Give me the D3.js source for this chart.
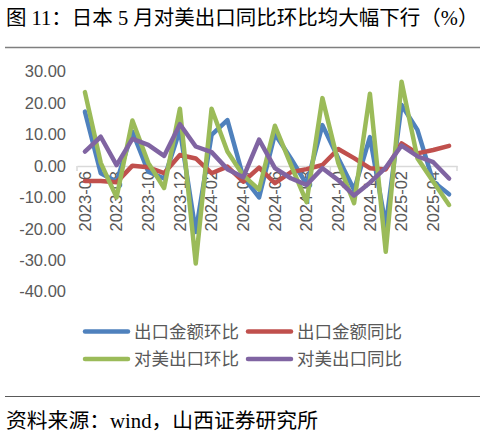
<!DOCTYPE html>
<html>
<head>
<meta charset="utf-8">
<script src="https://cdn.jsdelivr.net/npm/d3@7"></script>
<style>
  body { margin: 0; background: #fff; }
  svg { display: block; }
  .axis text { font-family: "Liberation Sans", Arial, sans-serif; fill: #595959; }
</style>
</head>
<body>
<script>
var months = ["2023-06","2023-07","2023-08","2023-09","2023-10","2023-11","2023-12",
              "2024-01","2024-02","2024-03","2024-04","2024-05","2024-06","2024-07",
              "2024-08","2024-09","2024-10","2024-11","2024-12","2025-01","2025-02",
              "2025-03","2025-04","2025-05"];
var tickLabels = ["2023-06","2023-08","2023-10","2023-12","2024-02","2024-04",
                  "2024-06","2024-08","2024-10","2024-12","2025-02","2025-04"];
var yTicks = [30, 20, 10, 0, -10, -20, -30, -40];

// 出口金额环比
var exportMoM = [17.3, -2.3, -5, 10.9, -1.8, -4, 11.5, -21, 9.9, 14.6, -3.5, -10,
                 10.2, 2.5, -5.8, 13, 2.5, -7.6, 9.2, -19, 19.4, 11.5, -5, -9];
// 出口金额同比
var exportYoY = [-4.8, -4.8, -5.2, 0.1, -0.4, -2.3, 3.5, 2.4, -2.3, -0.2, -5, -0.5,
                 -5.5, -2, -1, 0.3, 5.4, 2.5, -0.7, -1.1, 7.2, 4, 5.1, 6.4];
// 对美出口环比
var usMoM = [23.5, 1, -10, 14.5, 1, -7, 18.2, -31, 18.2, 4.6, -3, -7.5,
             12.8, 0.5, -11.5, 21.6, 1, -11.8, 23, -27.3, 26.8, 2.5, -5, -12.4];
// 对美出口同比
var usYoY = [4.6, 9.3, 0.3, 8.6, 6.7, 3.2, 13.3, 6.2, 4.4, -1, -3.6, 8.4,
             -0.7, -3.9, -6, -0.7, -4.5, -9.4, -5.3, -0.5, 6.5, 3.1, 1.2, -4];

var seriesNames = ["出口金额环比", "出口金额同比", "对美出口环比", "对美出口同比"];
var seriesValues = [exportMoM, exportYoY, usMoM, usYoY];
var colors = ["#4F81BD", "#C0504D", "#9BBB59", "#8064A2"];

var series = seriesNames.map(function(name, k) {
    return {name: name, values: seriesValues[k], color: colors[k]};
});

var W = 486, H = 437;
var svg = d3.select("body").append("svg")
    .attr("width", W)
    .attr("height", H);

// title + rule
svg.append("text")
    .attr("x", 6).attr("y", 25)
    .style("font-family", "'Liberation Serif', 'Noto Sans CJK SC', serif")
    .style("font-size", "20.5px")
    .attr("fill", "#000")
    .text("图 11：日本 5 月对美出口同比环比均大幅下行（%）");
svg.append("line")
    .attr("x1", 5).attr("x2", 480).attr("y1", 47.5).attr("y2", 47.5)
    .attr("stroke", "#7f7f7f").attr("stroke-width", 1.5);

var x = d3.scaleBand()
    .domain(months)
    .range([77, 457]);
var y = d3.scaleLinear()
    .domain([-40, 30])
    .range([291.7, 71.7]);

function cx(d) { return x(d) + x.bandwidth() / 2; }

// y axis labels
var yAxis = svg.append("g")
    .attr("class", "axis")
    .attr("transform", "translate(66,0)")
    .call(d3.axisLeft(y).tickValues(yTicks).tickSize(0).tickPadding(0)
        .tickFormat(function(d) { return d.toFixed(2); }));
yAxis.select(".domain").remove();
yAxis.selectAll("text").style("font-size", "16.5px");

// x axis along zero
var xAxis = svg.append("g")
    .attr("class", "axis")
    .attr("transform", "translate(0," + y(0) + ")")
    .call(d3.axisBottom(x).tickValues(tickLabels).tickSize(0).tickSizeOuter(0));
xAxis.select(".domain").attr("stroke", "#d9d9d9").attr("stroke-width", 1.5);
xAxis.selectAll("text")
    .style("font-size", "16.5px")
    .attr("transform", "rotate(-90)")
    .attr("text-anchor", "end")
    .attr("x", -5)
    .attr("y", 0)
    .attr("dy", "0.35em");

// small tick marks on category boundaries
var boundaries = [0, 8, 16];
svg.append("g").selectAll("line")
    .data(boundaries.map(function(k) { return x(months[k]); }).concat([x.range()[1]]))
    .enter().append("line")
    .attr("x1", function(d) { return d; })
    .attr("x2", function(d) { return d; })
    .attr("y1", y(0))
    .attr("y2", y(0) + 5)
    .attr("stroke", "#d9d9d9").attr("stroke-width", 1.5);

// lines
var line = d3.line()
    .x(function(d, i) { return cx(months[i]); })
    .y(function(d) { return y(d); });

svg.append("g").selectAll("path")
    .data(series)
    .enter().append("path")
    .attr("d", function(s) { return line(s.values); })
    .attr("fill", "none")
    .attr("stroke", function(s) { return s.color; })
    .attr("stroke-width", 4.5)
    .attr("stroke-linejoin", "round")
    .attr("stroke-linecap", "round");

// legend (2 x 2)
var legend = svg.append("g").selectAll("g")
    .data(series)
    .enter().append("g")
    .attr("transform", function(s, i) {
        return "translate(" + (i % 2 ? 248 : 85) + "," + (i < 2 ? 331.5 : 359) + ")";
    });
legend.append("line")
    .attr("x1", 0).attr("x2", 43)
    .attr("stroke", function(s) { return s.color; })
    .attr("stroke-width", 4.5)
    .attr("stroke-linecap", "round");
legend.append("text")
    .attr("x", 49).attr("dy", "0.36em")
    .style("font-family", "'Noto Sans CJK SC', sans-serif")
    .style("font-size", "17.5px")
    .attr("fill", "#595959")
    .text(function(s) { return s.name; });

// source
svg.append("line")
    .attr("x1", 5).attr("x2", 480).attr("y1", 396.5).attr("y2", 396.5)
    .attr("stroke", "#595959").attr("stroke-width", 1.2);
svg.append("text")
    .attr("x", 6).attr("y", 428)
    .style("font-family", "'Liberation Serif', 'Noto Sans CJK SC', serif")
    .style("font-size", "20.8px")
    .attr("fill", "#000")
    .text("资料来源：wind，山西证券研究所");
</script>
</body>
</html>
